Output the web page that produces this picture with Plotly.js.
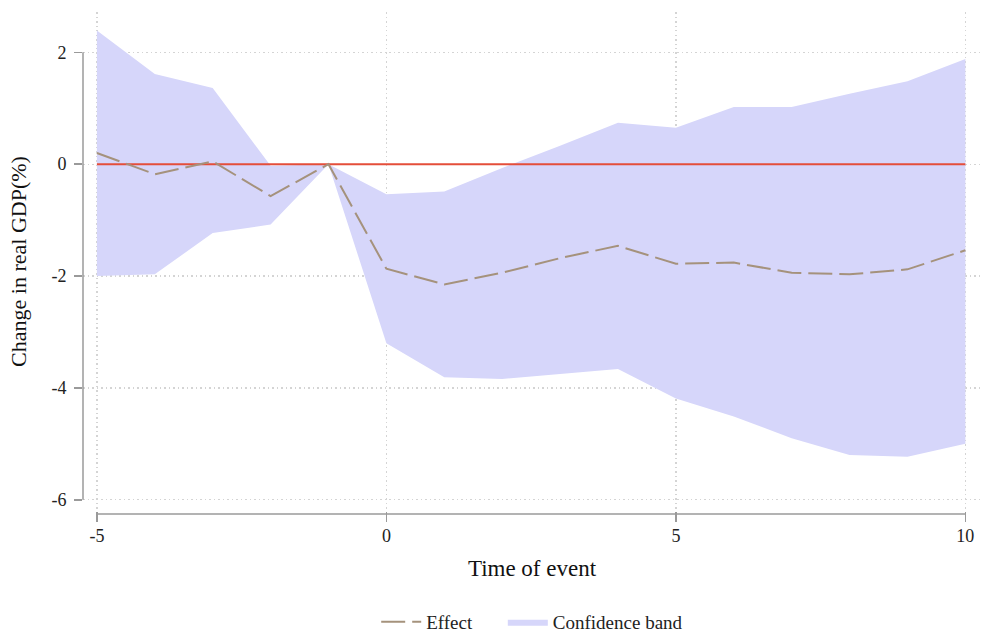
<!DOCTYPE html>
<html>
<head>
<meta charset="utf-8">
<script src="https://cdn.plot.ly/plotly-3.0.1.min.js"></script>
<style>html,body{margin:0;padding:0;background:#fff;}#chart{width:981px;height:634px;}</style>
</head>
<body>
<div id="chart"></div>
<script>
const timeOfEvent = [-5,-4,-3,-2,-1,0,1,2,3,4,5,6,7,8,9,10];
const effect      = [0.20,-0.18,0.05,-0.57,0,-1.87,-2.15,-1.94,-1.68,-1.46,-1.78,-1.76,-1.94,-1.97,-1.88,-1.54];
const upperBand   = [2.39,1.61,1.36,-0.03,0,-0.54,-0.49,-0.07,0.33,0.74,0.65,1.02,1.02,1.26,1.48,1.88];
const lowerBand   = [-2.00,-1.97,-1.23,-1.08,0,-3.20,-3.81,-3.84,-3.75,-3.66,-4.19,-4.51,-4.90,-5.20,-5.23,-5.00];
const zeroLine    = timeOfEvent.map(() => 0);
const yTicks = [-6,-4,-2,0,2];
const xTicks = [-5,0,5,10];

const bandColor = 'rgb(214,214,250)';
const font = "'Liberation Serif','Times New Roman',serif";

const traces = [
  {x: timeOfEvent, y: lowerBand, type: 'scatter', mode: 'lines', line: {width: 0, color: bandColor},
   showlegend: false, hoverinfo: 'skip'},
  {x: timeOfEvent, y: upperBand, type: 'scatter', mode: 'lines', fill: 'tonexty', fillcolor: bandColor,
   line: {width: 0, color: bandColor}, name: 'Confidence band', legend: 'legend2'},
  {x: timeOfEvent, y: zeroLine, type: 'scatter', mode: 'lines', line: {color: 'rgb(228,78,58)', width: 2},
   showlegend: false},
  {x: timeOfEvent, y: effect, type: 'scatter', mode: 'lines', name: 'Effect', legend: 'legend',
   line: {color: 'rgb(165,146,124)', width: 2, dash: '24px,7px'}}
];

const legendFont = {family: font, size: 19, color: '#222'};
const layout = {
  width: 981, height: 634,
  margin: {l: 83, r: 0, t: 12, b: 123, autoexpand: false},
  paper_bgcolor: '#fff', plot_bgcolor: '#fff',
  font: {family: font, color: '#222', size: 18},
  showlegend: true,
  legend: {orientation: 'h', x: 0.3265, xanchor: 'left', y: -0.222, yanchor: 'middle',
           font: legendFont, itemwidth: 40, bgcolor: 'rgba(0,0,0,0)'},
  legend2: {orientation: 'h', x: 0.4675, xanchor: 'left', y: -0.222, yanchor: 'middle',
           font: legendFont, itemwidth: 40, bgcolor: 'rgba(0,0,0,0)'},
  xaxis: {range: [-5.24, 10.27], tickvals: xTicks, ticktext: xTicks.map(String), automargin: false,
          showgrid: true, gridcolor: '#d4d4d4', griddash: '1.5px,3px', gridwidth: 1.3,
          zeroline: false, showline: false, ticks: 'outside', ticklen: 10, tickcolor: '#9a9a9a', tickwidth: 1.5,
          ticklabelstandoff: -2, tickfont: {family: font, size: 18, color: '#222'},
          title: {text: 'Time of event', font: {family: font, size: 23, color: '#111'}, standoff: 15}},
  yaxis: {range: [-6.2, 2.72], tickvals: yTicks, ticktext: yTicks.map(String), automargin: false,
          showgrid: true, gridcolor: '#d4d4d4', griddash: '1.5px,3px', gridwidth: 1.3,
          zeroline: false, showline: false, ticks: 'outside', ticklen: 8, tickcolor: '#9a9a9a', tickwidth: 1.5,
          ticklabelstandoff: 4, tickfont: {family: font, size: 18, color: '#222'},
          title: {text: 'Change in real GDP(%)', font: {family: font, size: 22, color: '#111'}, standoff: 18}},
  shapes: [
    {type: 'line', xref: 'paper', yref: 'y', x0: 0, x1: 0, y0: -6, y1: 2,
     line: {color: '#9a9a9a', width: 1.5}},
    {type: 'line', xref: 'x', yref: 'paper', x0: -5, x1: 10, y0: -0.006, y1: -0.006,
     line: {color: '#9a9a9a', width: 1.5}}
  ]
};

Plotly.newPlot('chart', traces, layout, {displayModeBar: false, staticPlot: true});
</script>
</body>
</html>
